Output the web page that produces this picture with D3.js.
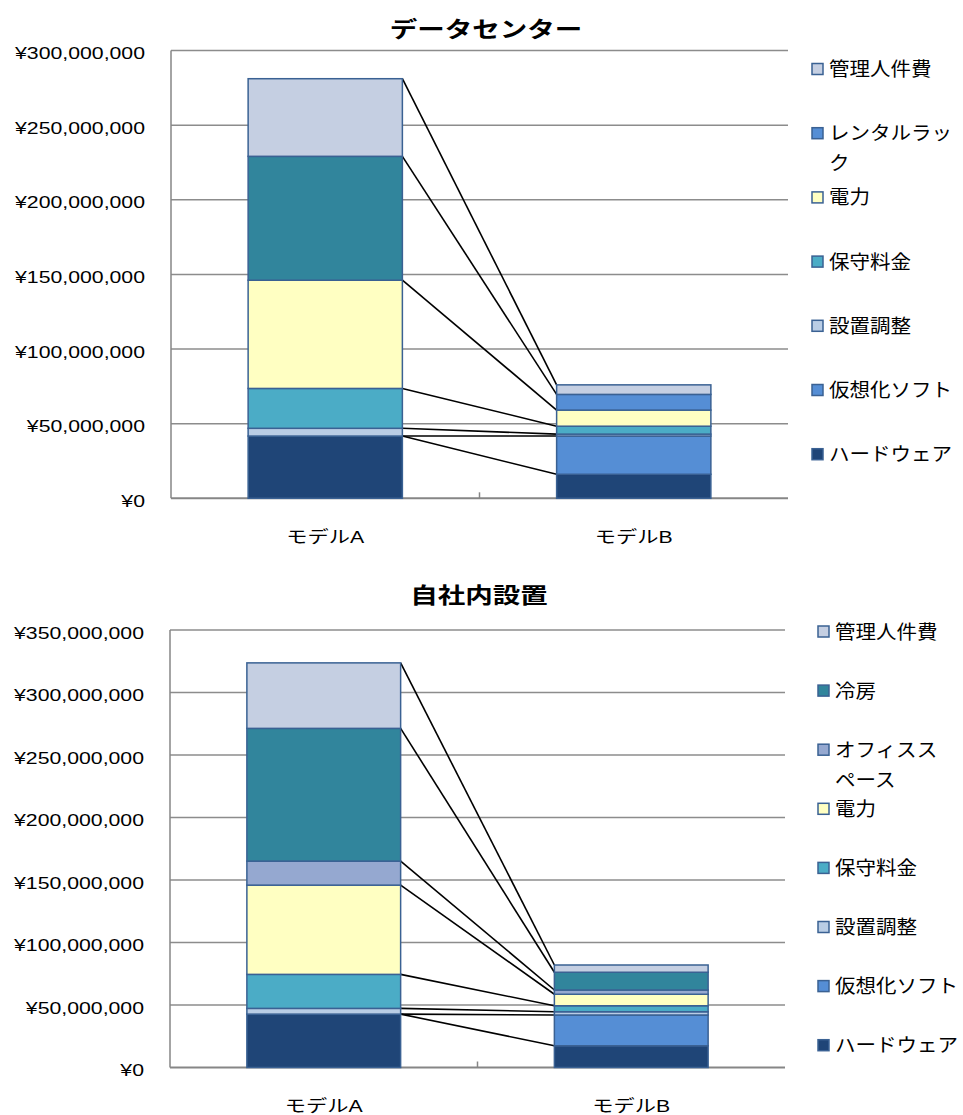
<!DOCTYPE html>
<html><head><meta charset="utf-8">
<script src="https://cdn.jsdelivr.net/npm/d3@7/dist/d3.min.js"></script>
<style>
html,body{margin:0;padding:0;background:#fff;}
svg{display:block;}
text{font-family:"Liberation Sans","Noto Sans CJK JP",sans-serif;fill:#000;}
</style></head>
<body>
<svg id="c" width="963" height="1115"></svg>
<script>
// ---------- data ----------
const categories = ["モデルA", "モデルB"];

// Chart 1: データセンター (stack order bottom -> top)
const dcTitle = "データセンター";
const dcSeries = ["ハードウェア", "仮想化ソフト", "設置調整", "保守料金", "電力", "レンタルラック", "管理人件費"];
const dcModelA = [41700000, 0, 5200000, 26700000, 72500000, 83000000, 52000000];
const dcModelB = [16100000, 25600000, 1300000, 5300000, 10800000, 10500000, 6400000];
const dcTicks = [0, 50000000, 100000000, 150000000, 200000000, 250000000, 300000000];
const dcLegendLabels = ["ハードウェア", "仮想化ソフト", "設置調整", "保守料金", "電力", "レンタルラッ\nク", "管理人件費"];

// Chart 2: 自社内設置
const ohTitle = "自社内設置";
const ohSeries = ["ハードウェア", "仮想化ソフト", "設置調整", "保守料金", "電力", "オフィススペース", "冷房", "管理人件費"];
const ohModelA = [42700000, 0, 4600000, 27200000, 71400000, 19200000, 106200000, 52400000];
const ohModelB = [17400000, 24600000, 2600000, 4800000, 9200000, 3400000, 14200000, 5800000];
const ohTicks = [0, 50000000, 100000000, 150000000, 200000000, 250000000, 300000000, 350000000];
const ohLegendLabels = ["ハードウェア", "仮想化ソフト", "設置調整", "保守料金", "電力", "オフィスス\nペース", "冷房", "管理人件費"];

// ---------- styles ----------
const seriesColor = {
  "ハードウェア": "#1F4577",
  "仮想化ソフト": "#558ED5",
  "設置調整": "#B9CDE5",
  "保守料金": "#4BACC6",
  "電力": "#FFFFC2",
  "レンタルラック": "#558ED5",
  "オフィススペース": "#95A8D0",
  "冷房": "#31859C",
  "管理人件費": "#C5CFE2"
};
// per-point colour override seen in the reference
const pointColor = {"データセンター|モデルA|レンタルラック": "#31859C"};
const SX = 1.25;   // horizontal text stretch of the reference
const LSX = 1.08;  // legend text stretch

const svg = d3.select("#c");

function drawChart(cfg) {
  const g = svg.append("g");
  const x = d3.scaleBand().domain(categories).range([cfg.left, cfg.right]).paddingInner(0.5).paddingOuter(0.25);
  const y = d3.scaleLinear().domain([0, d3.max(cfg.ticks)]).range([cfg.bottom, cfg.top]);

  // gridlines
  g.append("g").selectAll("line").data(cfg.ticks.filter(t => t > 0)).join("line")
    .attr("x1", cfg.left).attr("x2", cfg.right)
    .attr("y1", d => y(d)).attr("y2", d => y(d))
    .attr("stroke", "#8C8C8C").attr("stroke-width", 1.5);

  // y axis
  const ya = g.append("g").attr("transform", `translate(${cfg.left},0)`)
    .call(d3.axisLeft(y).tickValues(cfg.ticks).tickSize(0).tickPadding(0)
      .tickFormat(d => "¥" + d3.format(",")(d)));
  ya.select(".domain").remove();
  ya.selectAll("text")
    .attr("font-size", 17).attr("font-family", "Liberation Sans, Arial, sans-serif")
    .attr("dy", null).attr("dominant-baseline", null)
    .attr("transform", `translate(-26,8) scale(${SX},1)`).attr("x", 0).attr("fill", "#000");

  // axis lines
  g.append("line").attr("x1", cfg.left).attr("x2", cfg.left).attr("y1", cfg.top).attr("y2", cfg.bottom)
    .attr("stroke", "#868686").attr("stroke-width", 1.5);
  const xa = g.append("g").attr("transform", `translate(0,${cfg.bottom})`)
    .call(d3.axisBottom(x).tickSize(0).tickPadding(0));
  xa.select(".domain").remove();
  xa.selectAll("text").attr("font-size", 17).attr("dy", null).attr("y", 0)
    .attr("transform", `translate(0,${cfg.catDy}) scale(${SX},1)`);
  g.append("line").attr("x1", cfg.left).attr("x2", cfg.right).attr("y1", cfg.bottom).attr("y2", cfg.bottom)
    .attr("stroke", "#868686").attr("stroke-width", 2);
  // category separator tick
  const midX = (x(categories[0]) + x.bandwidth() + x(categories[1])) / 2;
  g.append("line").attr("x1", midX).attr("x2", midX).attr("y1", cfg.bottom).attr("y2", cfg.bottom - 6)
    .attr("stroke", "#868686").attr("stroke-width", 1.5);

  // stacked data
  const rows = categories.map((c, i) => {
    const vals = i === 0 ? cfg.a : cfg.b;
    const o = {cat: c};
    cfg.series.forEach((s, k) => o[s] = vals[k]);
    return o;
  });
  const stacked = d3.stack().keys(cfg.series)(rows);

  // series lines (connect tops of each segment)
  const sl = g.append("g");
  stacked.forEach(layer => {
    sl.append("line")
      .attr("x1", x(categories[0]) + x.bandwidth()).attr("y1", y(layer[0][1]))
      .attr("x2", x(categories[1])).attr("y2", y(layer[1][1]))
      .attr("stroke", "#000").attr("stroke-width", 1.6);
  });

  // bars
  g.append("g").selectAll("g").data(stacked).join("g")
    .each(function(layer) {
      d3.select(this).selectAll("rect").data(layer).join("rect")
        .attr("x", d => x(d.data.cat))
        .attr("width", x.bandwidth())
        .attr("y", d => y(d[1]))
        .attr("height", d => Math.max(0, y(d[0]) - y(d[1])))
        .attr("fill", d => pointColor[cfg.title + "|" + d.data.cat + "|" + layer.key] || seriesColor[layer.key])
        .attr("stroke", d => (d[1] - d[0]) > 0 ? "#3A6193" : "none")
        .attr("stroke-width", 1.5);
    });

  // title
  g.append("text").attr("transform", `translate(${cfg.titleX},${cfg.titleY}) scale(${SX},1)`)
    .attr("text-anchor", "middle").attr("font-size", 22).attr("font-weight", "bold")
    .attr("font-family", "Noto Sans CJK JP, sans-serif")
    .text(cfg.title);

  // legend (top entry = last series)
  const lg = g.append("g");
  const order = cfg.series.map((s, k) => k).reverse();
  order.forEach((k, i) => {
    const cy = cfg.legTop + i * cfg.legStep;
    const s = cfg.series[k];
    lg.append("rect").attr("x", cfg.legX).attr("y", cy - 5.5).attr("width", 11).attr("height", 11)
      .attr("fill", seriesColor[s]).attr("stroke", "#3A6193").attr("stroke-width", 1.5);
    const lines = cfg.legLabels[k].split("\n");
    lines.forEach((ln, j) => {
      lg.append("text").attr("transform", `translate(${cfg.legX + 17},${cy + 7 + j * 30}) scale(${LSX},1)`)
        .attr("font-size", 19).attr("font-family", "Noto Sans CJK JP, sans-serif").text(ln);
    });
  });
}

drawChart({
  title: dcTitle, titleX: 486, titleY: 37,
  left: 171, right: 788, top: 50.5, bottom: 498.3, ticks: dcTicks,
  series: dcSeries, a: dcModelA, b: dcModelB, catDy: 45,
  legX: 812, legTop: 69, legStep: 64.2, legLabels: dcLegendLabels
});
drawChart({
  title: ohTitle, titleX: 479, titleY: 603,
  left: 170, right: 785, top: 630, bottom: 1067.5, ticks: ohTicks,
  series: ohSeries, a: ohModelA, b: ohModelB, catDy: 44,
  legX: 818, legTop: 631.5, legStep: 59.1, legLabels: ohLegendLabels
});
</script>
</body></html>
